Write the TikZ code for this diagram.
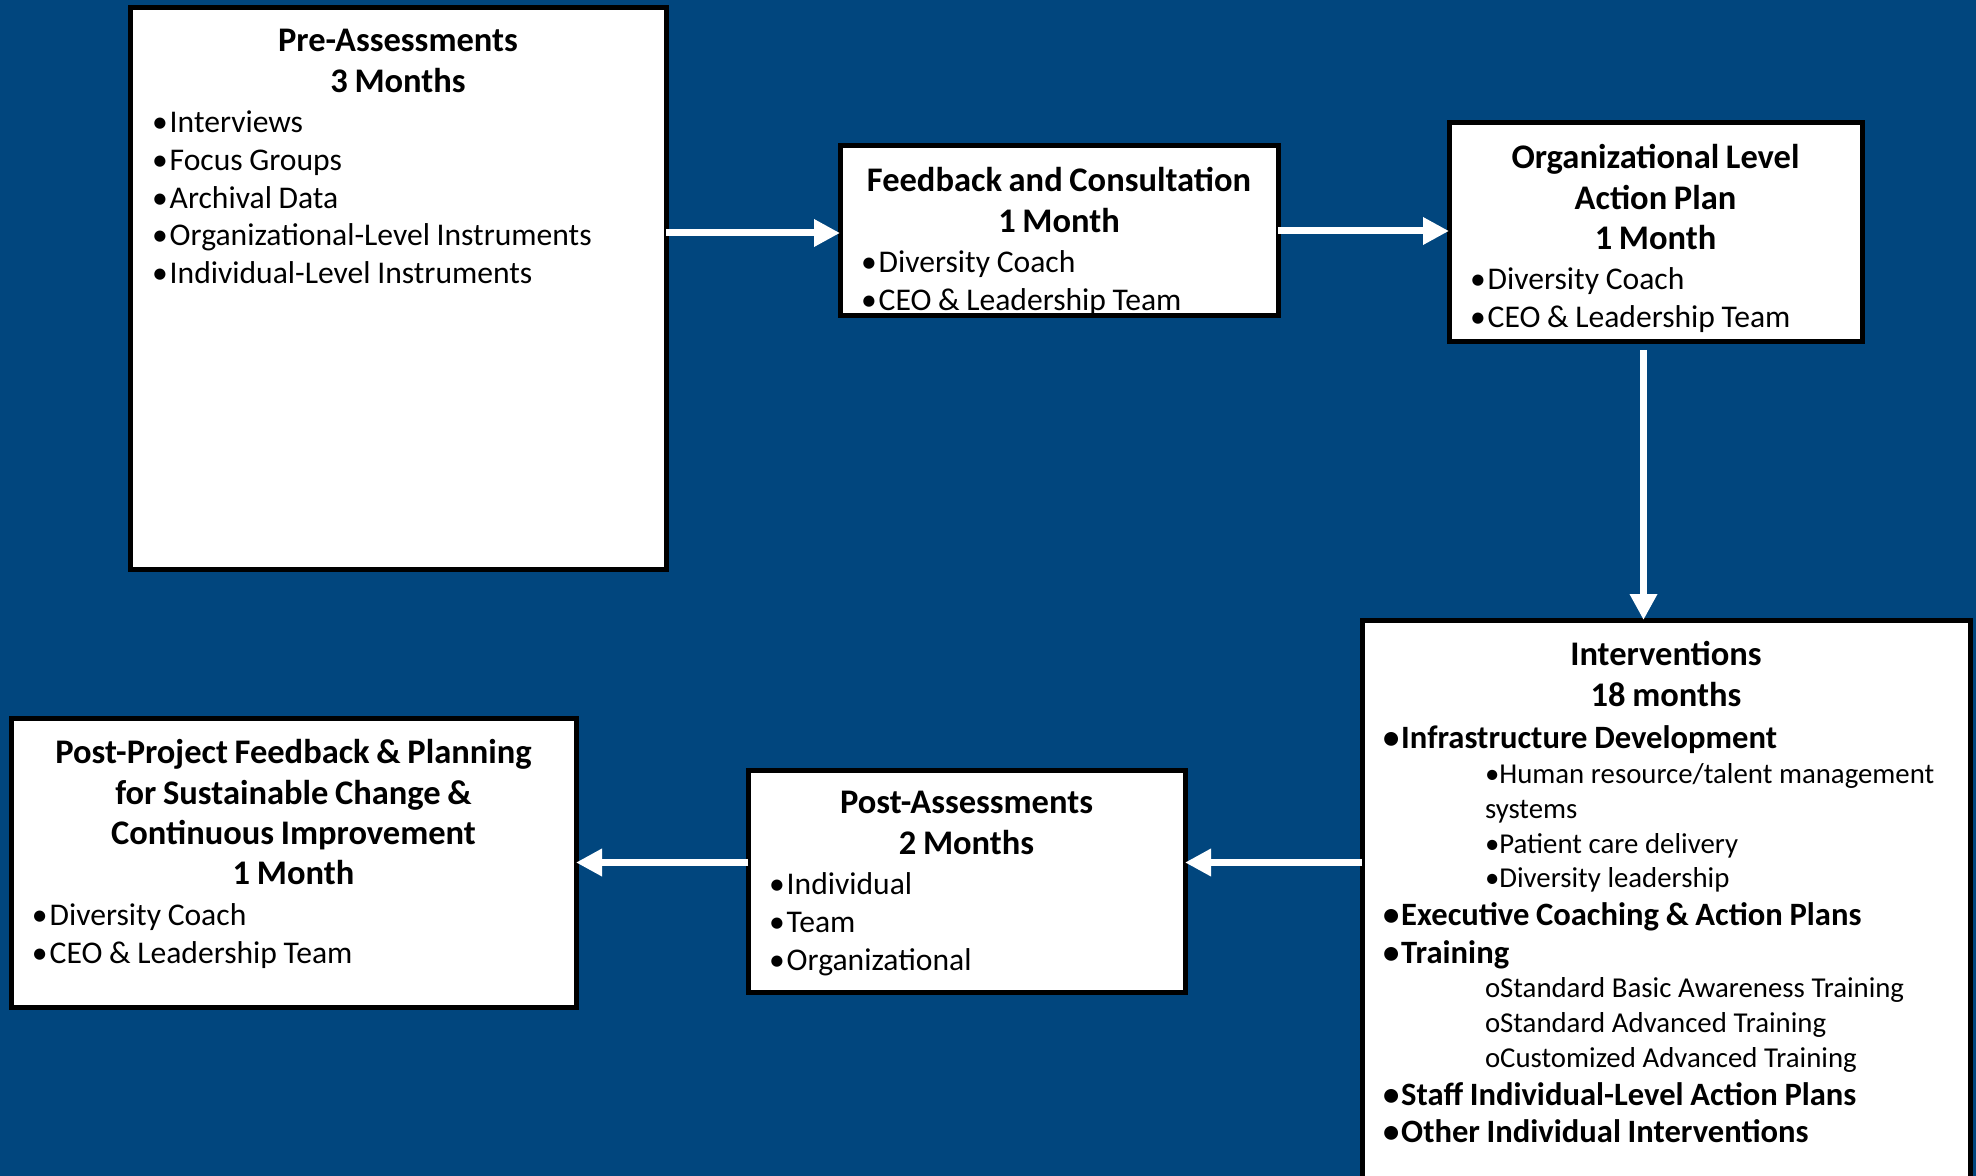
\documentclass[tikz,border=0pt]{standalone}
\usepackage{fontspec}
\setmainfont{Carlito}
\usetikzlibrary{arrows.meta}
\definecolor{slideblue}{RGB}{1,70,126}
\setlength{\parindent}{0pt}
\setlength{\parskip}{0pt}
% one heading line block, centred and bold
\newcommand{\heading}[1]{{\centering\bfseries\fontsize{17.25}{20.2}\selectfont #1\par}\vspace{1.3pt}}
% plain bullet line
\newcommand{\bul}[1]{{\fontsize{15.8}{18.9}\selectfont •\kern1pt#1\par}}
% intervention lines
\newcommand{\ivmain}[1]{{\bfseries\fontsize{16.3}{18.8}\selectfont •\kern1pt#1\par}}
\newcommand{\ivsub}[1]{{\fontsize{14.4}{17.4}\selectfont\hspace*{51pt}#1\par}}

\tikzset{
  stagebox/.style={draw=black, line width=2.5pt, fill=white, inner sep=0pt,
    outer sep=0pt, anchor=north west},
  stagetext/.style={anchor=north, inner sep=0pt, align=left},
  flow/.style={draw=white, line width=3.5pt, -{Triangle[length=13pt,width=13pt]}}
}

\begin{document}
\begin{tikzpicture}[x=0.5pt,y=-0.5pt]
\useasboundingbox (0,0) rectangle (1976,1176);
\fill[slideblue] (0,0) rectangle (1976,1176);

% stage boxes
\node[stagebox, minimum width=268pt, minimum height=280.5pt] (pre) at (130,8) {};
\node[stagebox, minimum width=219pt, minimum height=85pt] (fb) at (840,146) {};
\node[stagebox, minimum width=206.5pt, minimum height=109.5pt] (org) at (1449,123) {};
\node[stagebox, minimum width=304pt, minimum height=290pt] (int) at (1362,620) {};
\node[stagebox, minimum width=218.5pt, minimum height=111pt] (post) at (748,770) {};
\node[stagebox, minimum width=282.5pt, minimum height=144.5pt] (ppf) at (11,718) {};

% texts
\node[stagetext, text width=246pt] (pre-t) at ([yshift=-10.5pt]pre.north) {%
  \heading{Pre-Assessments\\3 Months}
  \bul{Interviews}
  \bul{Focus Groups}
  \bul{Archival Data}
  \bul{Organizational-Level Instruments}
  \bul{Individual-Level Instruments}};
\node[stagetext, text width=198pt] (fb-t) at ([yshift=-10.5pt]fb.north) {%
  \heading{Feedback and Consultation\\1 Month}
  \bul{Diversity Coach}
  \bul{CEO \& Leadership Team}};
\node[stagetext, text width=185.5pt] (org-t) at ([yshift=-10.5pt]org.north) {%
  \heading{Organizational Level\\Action Plan\\1 Month}
  \bul{Diversity Coach}
  \bul{CEO \& Leadership Team}};
\node[stagetext, text width=283pt] (int-t) at ([yshift=-10.5pt]int.north) {%
  \heading{Interventions\\18 months}\vspace{1.2pt}
  \ivmain{Infrastructure Development}
  \ivsub{•Human resource/talent management}
  \ivsub{systems}
  \ivsub{•Patient care delivery}
  \ivsub{•Diversity leadership}
  \ivmain{Executive Coaching \& Action Plans}
  \ivmain{Training}
  \ivsub{oStandard Basic Awareness Training}
  \ivsub{oStandard Advanced Training}
  \ivsub{oCustomized Advanced Training}
  \ivmain{Staff Individual-Level Action Plans}
  \ivmain{Other Individual Interventions}};
\node[stagetext, text width=197.5pt] (post-t) at ([yshift=-10.5pt]post.north) {%
  \heading{Post-Assessments\\2 Months}
  \bul{Individual}
  \bul{Team}
  \bul{Organizational}};
\node[stagetext, text width=261.5pt] (ppf-t) at ([yshift=-10.5pt]ppf.north) {%
  \heading{Post-Project Feedback \& Planning\\for Sustainable Change \&\\Continuous Improvement\\1 Month}
  \bul{Diversity Coach}
  \bul{CEO \& Leadership Team}};

% arrows
\draw[flow] ([yshift=-1pt]pre.east |- fb.west) -- ([yshift=-1pt]fb.west);
\draw[flow] (fb.east) -- (fb.east -| org.west);
\draw[flow] ([shift={(-12,8)}]org.south) -- ([xshift=-12*0.5pt]org.south |- int.north);
\draw[flow] (int.west |- ppf.east) -- (post.east |- ppf.east);
\draw[flow] (post.west |- ppf.east) -- (ppf.east);
\end{tikzpicture}
\end{document}
